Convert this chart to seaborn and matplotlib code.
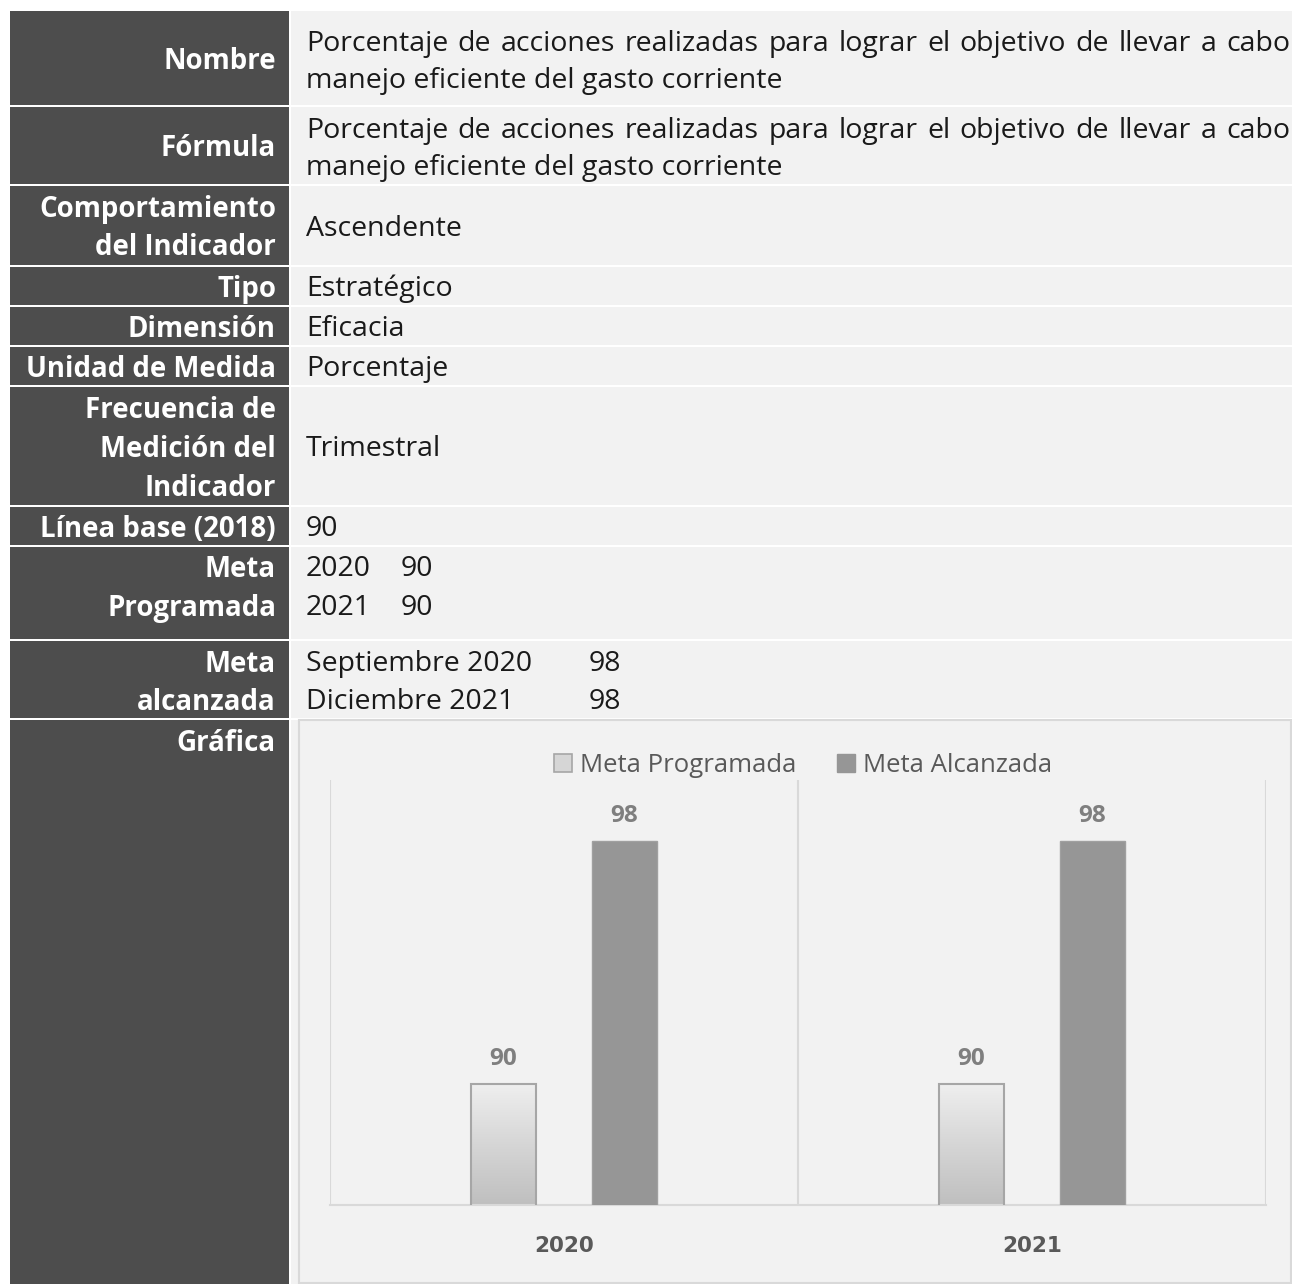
import numpy as np
import pandas as pd
import matplotlib
matplotlib.use("Agg")
import matplotlib.pyplot as plt
import seaborn as sns
from matplotlib.patches import Rectangle, Patch
from matplotlib.colors import LinearSegmentedColormap

# ---------------- data ----------------
anios = ["2020", "2021"]
series = ["Meta Programada", "Meta Alcanzada"]
meta_programada = [90, 90]
meta_alcanzada = [98, 98]

etiquetas = [
    ["Nombre"],
    ["Fórmula"],
    ["Comportamiento", "del Indicador"],
    ["Tipo"],
    ["Dimensión"],
    ["Unidad de Medida"],
    ["Frecuencia de", "Medición del", "Indicador"],
    ["Línea base (2018)"],
    ["Meta", "Programada"],
    ["Meta", "alcanzada"],
    ["Gráfica"],
]
texto_nombre = ["Porcentaje de acciones realizadas para lograr el objetivo de llevar a cabo",
                "manejo eficiente del gasto corriente"]
texto_formula = ["Porcentaje de acciones realizadas para lograr el objetivo de llevar a cabo",
                 "manejo eficiente del gasto corriente"]
comportamiento = "Ascendente"
tipo = "Estratégico"
dimension = "Eficacia"
unidad = "Porcentaje"
frecuencia = "Trimestral"
linea_base = "90"
meta_prog_anios = ["2020", "2021"]
meta_prog_vals = ["90", "90"]
meta_alc_periodos = ["Septiembre 2020", "Diciembre 2021"]
meta_alc_vals = ["98", "98"]

# ---------------- style ----------------
sns.set_theme(style="white")
plt.rcParams["font.family"] = ["Open Sans", "DejaVu Sans"]

W, H = 1292, 1284
DARK = "#4d4d4d"
LIGHT = "#f2f2f2"
BODY = "#1a1a1a"
FS_BODY = 20.5
FS_LAB = 19.9

fig = plt.figure(figsize=(W / 100, H / 100), dpi=100)
fig.patch.set_facecolor("white")
bg = fig.add_axes([0, 0, 1, 1])
bg.set_xlim(0, W)
bg.set_ylim(H, 0)
bg.axis("off")

row_bounds = [(11, 105), (107, 184), (186, 265), (267, 305), (307, 345), (347, 385),
              (387, 505), (507, 545), (547, 639), (641, 718), (720, 1284)]
for t, b in row_bounds:
    bg.add_patch(Rectangle((10, t), 279, b - t, fc=DARK, ec="none"))
    bg.add_patch(Rectangle((291, t), 1001, b - t, fc=LIGHT, ec="none"))

# chart panel
bg.add_patch(Rectangle((299, 720), 992, 563, fc=LIGHT, ec="#d9d9d9", lw=1.5))

# left labels
label_baselines = [[69], [156], [217, 255], [297], [337], [377], [418, 457, 496], [537],
                   [577, 616], [672, 710], [751]]
for lines, ys in zip(etiquetas, label_baselines):
    for ln, y in zip(lines, ys):
        bg.text(276, y, ln, ha="right", va="baseline", color="white",
                fontsize=FS_LAB, fontweight="bold")

renderer = fig.canvas.get_renderer()


def justified(line, y, x0=306, x1=1290):
    words = line.split(" ")
    arts = [bg.text(0, y, w, ha="left", va="baseline", color=BODY, fontsize=FS_BODY) for w in words]
    widths = [a.get_window_extent(renderer).width for a in arts]
    gap = (x1 - x0 - sum(widths)) / (len(words) - 1)
    x = x0
    for a, wd in zip(arts, widths):
        a.set_x(x)
        x += wd + gap


def body(x, y, s):
    bg.text(x, y, s, ha="left", va="baseline", color=BODY, fontsize=FS_BODY)


justified(texto_nombre[0], 51)
body(306, 88, texto_nombre[1])
justified(texto_formula[0], 138)
body(306, 175, texto_formula[1])
body(306, 236, comportamiento)
body(306, 296, tipo)
body(306, 336, dimension)
body(306, 376, unidad)
body(306, 456, frecuencia)
body(306, 536, linea_base)
for y, a, v in zip([576, 615], meta_prog_anios, meta_prog_vals):
    body(306, y, a)
    body(401, y, v)
for y, p, v in zip([671, 709], meta_alc_periodos, meta_alc_vals):
    body(306, y, p)
    body(589, y, v)

# ---------------- bar chart ----------------
ax = fig.add_axes([330 / W, 1 - 1205 / H, 936 / W, 425 / H])
ax.set_facecolor("none")

df = pd.DataFrame({
    "Año": anios * 2,
    "Serie": [series[0]] * len(anios) + [series[1]] * len(anios),
    "Valor": meta_programada + meta_alcanzada,
})
sns.barplot(data=df, x="Año", y="Valor", hue="Serie", order=anios, hue_order=series,
            palette=["#d9d9d9", "#969696"], saturation=1, width=0.517, gap=0.462,
            errorbar=None, legend=False, ax=ax)

YMIN, YMAX = 86, 100
grad_cmap = LinearSegmentedColormap.from_list("g", ["#bfbfbf", "#d6d6d6", "#efefef"])
grad = np.linspace(0, 1, 256).reshape(-1, 1)
for bar in ax.containers[0]:
    x, w = bar.get_x(), bar.get_width()
    y1 = bar.get_y() + bar.get_height()
    ax.imshow(grad, extent=[x, x + w, YMIN, y1], origin="lower", aspect="auto",
              cmap=grad_cmap, zorder=2)
    bar.set_facecolor("none")
    bar.set_edgecolor("#a6a6a6")
    bar.set_linewidth(1.5)
    bar.set_zorder(3)
for bar in ax.containers[1]:
    bar.set_edgecolor("#a0a0a0")
    bar.set_linewidth(1.0)
    bar.set_zorder(3)

for cont in ax.containers:
    ax.bar_label(cont, fmt="%d", padding=9, color="#7f7f7f", fontsize=17.5, fontweight="bold")

ax.set_xlim(-0.5, 1.5)
ax.set_ylim(YMIN, YMAX)
ax.set_yticks([])
ax.set_xlabel("")
ax.set_ylabel("")
for s in ["left", "right", "top"]:
    ax.spines[s].set_visible(False)
ax.spines["bottom"].set_color("#d9d9d9")
ax.spines["bottom"].set_linewidth(1.5)
for xv in [-0.5, 0.5, 1.5]:
    ax.axvline(xv, color="#d9d9d9", lw=1.5, zorder=1)
ax.tick_params(axis="x", length=0, pad=22, labelsize=15.5, labelcolor="#595959")
for lab in ax.get_xticklabels():
    lab.set_fontweight("bold")
    lab.set_fontfamily(["DejaVu Sans"])

handles = [Patch(fc="#d6d6d6", ec="#a6a6a6", lw=1.2, label=series[0]),
           Patch(fc="#969696", ec="#969696", lw=1.0, label=series[1])]
leg = fig.legend(handles=handles, loc="center", bbox_to_anchor=(803 / W, 1 - 765 / H),
                 ncol=2, frameon=False, fontsize=18.5, handlelength=0.7, handleheight=0.7,
                 handletextpad=0.3, columnspacing=1.6, labelcolor="#595959")

fig.savefig("out.png", dpi=100)
